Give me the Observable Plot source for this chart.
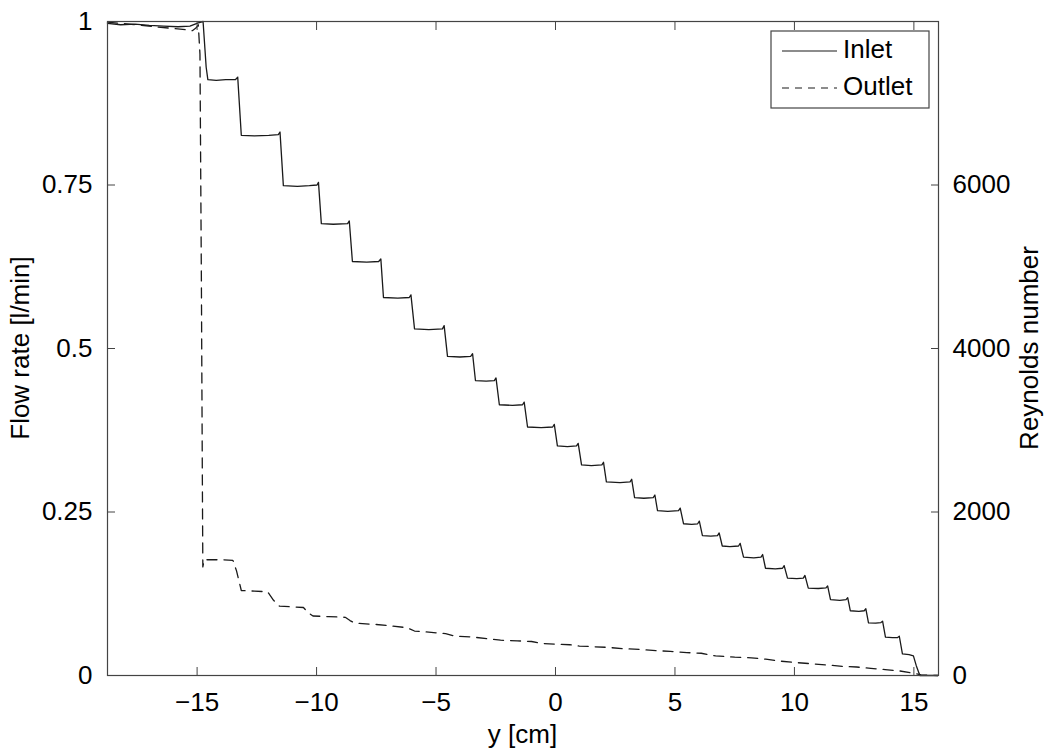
<!DOCTYPE html>
<html><head><meta charset="utf-8">
<script src="https://cdn.jsdelivr.net/npm/d3@7"></script>
<script src="https://cdn.jsdelivr.net/npm/@observablehq/plot@0.6"></script>
<style>
body{margin:0;background:#fff}
svg{font-family:"Liberation Sans",Arial,Helvetica,sans-serif}
</style>
</head><body><div id="chart"></div>
<script>
// ---- data ----
const seriesNames = ["Inlet", "Outlet"];
const xTicks = [-15, -10, -5, 0, 5, 10, 15];
const yTicks = [0, 0.25, 0.5, 0.75, 1];
const yTickLabels = ["0", "0.25", "0.5", "0.75", "1"];
const reTicks = [0, 2000, 4000, 6000];
const reMax = 8000;
const xLabel = "y [cm]";
const yLabel = "Flow rate [l/min]";
const y2Label = "Reynolds number";

const inletX = [
  -18.75, -18.2, -17.6, -17.0, -16.4, -15.8, -15.3, -14.95, -14.75,
  -14.62, -14.55, -14.2, -13.8, -13.4, -13.3,
  -13.15, -12.6, -12.0, -11.6, -11.53,
  -11.39, -10.8, -10.3, -9.98, -9.92,
  -9.80, -9.3, -8.7, -8.63,
  -8.50, -7.9, -7.4, -7.31,
  -7.20, -6.6, -6.12, -6.05,
  -5.90, -5.3, -4.73, -4.66,
  -4.52, -4.0, -3.55, -3.47,
  -3.35, -2.9, -2.56, -2.49,
  -2.35, -1.8, -1.38, -1.31,
  -1.17, -0.6, -0.12, -0.05,
  0.08, 0.5, 0.88, 0.95,
  1.09, 1.5, 1.94, 2.01,
  2.13, 2.7, 3.12, 3.19,
  3.31, 3.7, 4.09, 4.16,
  4.27, 4.7, 5.15, 5.22,
  5.36, 5.7, 5.95, 6.02,
  6.15, 6.5, 6.78, 6.85,
  6.98, 7.3, 7.66, 7.73,
  7.87, 8.3, 8.60, 8.67,
  8.79, 9.2, 9.50, 9.57,
  9.71, 10.1, 10.37, 10.44,
  10.58, 11.0, 11.32, 11.39,
  11.51, 11.9, 12.16, 12.23,
  12.34, 12.7, 12.92, 12.99,
  13.10, 13.4, 13.62, 13.69,
  13.81, 14.1, 14.32, 14.39,
  14.52, 14.8, 14.98,
  15.1, 15.25, 16.0
];
const inletY = [
  0.997, 0.995, 0.996, 0.994, 0.993, 0.992, 0.993, 0.998, 1.0,
  0.93, 0.911, 0.910, 0.911, 0.911, 0.915,
  0.826, 0.825, 0.826, 0.827, 0.831,
  0.749, 0.748, 0.749, 0.750, 0.754,
  0.691, 0.690, 0.691, 0.695,
  0.633, 0.632, 0.633, 0.637,
  0.578, 0.577, 0.578, 0.582,
  0.530, 0.529, 0.530, 0.535,
  0.488, 0.487, 0.488, 0.492,
  0.451, 0.450, 0.451, 0.455,
  0.414, 0.413, 0.414, 0.418,
  0.380, 0.379, 0.380, 0.384,
  0.351, 0.350, 0.351, 0.355,
  0.322, 0.321, 0.322, 0.326,
  0.296, 0.295, 0.296, 0.300,
  0.272, 0.271, 0.272, 0.276,
  0.252, 0.251, 0.252, 0.256,
  0.232, 0.231, 0.232, 0.236,
  0.214, 0.213, 0.214, 0.218,
  0.198, 0.197, 0.198, 0.202,
  0.181, 0.180, 0.181, 0.185,
  0.164, 0.163, 0.164, 0.168,
  0.149, 0.148, 0.149, 0.153,
  0.1335, 0.133, 0.134, 0.137,
  0.116, 0.115, 0.116, 0.119,
  0.099, 0.098, 0.099, 0.102,
  0.0805, 0.080, 0.081, 0.083,
  0.0586, 0.058, 0.058, 0.060,
  0.033, 0.032, 0.030,
  0.015, 0.0, 0.0
];

const outletX = [
  -18.75, -18.2, -17.5, -16.8, -16.2, -15.6, -15.2, -15.05, -14.95,
  -14.88, -14.82, -14.78, -14.76, -14.7, -14.3, -13.9, -13.5,
  -13.35, -13.15, -12.6, -12.05, -11.8, -11.55, -11.0, -10.55,
  -10.35, -10.15, -9.5, -8.8, -8.6, -8.4, -7.5, -6.9, -6.2,
  -5.9, -5.2, -4.6, -4.2, -3.5, -2.8, -2.3, -1.6, -1.0, -0.6,
  0.0, 0.6, 1.0, 1.6, 2.2, 2.8, 3.5, 4.2, 4.8, 5.5, 6.1, 6.7,
  7.5, 8.2, 8.8, 9.4, 10.0, 10.7, 11.4, 12.0, 12.6, 13.2, 13.8,
  14.4, 14.9, 15.3, 16.0
];
const outletY = [
  0.999, 0.997, 0.995, 0.992, 0.990, 0.988, 0.986, 0.990, 0.995,
  0.95, 0.6, 0.3, 0.166, 0.177, 0.177, 0.177, 0.176,
  0.160, 0.130, 0.129, 0.128, 0.115, 0.106, 0.105, 0.104,
  0.096, 0.091, 0.090, 0.089, 0.084, 0.080, 0.078, 0.076, 0.073,
  0.068, 0.066, 0.064, 0.060, 0.059, 0.056, 0.054, 0.053, 0.052, 0.049,
  0.048, 0.047, 0.045, 0.044, 0.043, 0.041, 0.040, 0.038, 0.037, 0.035, 0.034, 0.030,
  0.028, 0.027, 0.025, 0.022, 0.020, 0.018, 0.016, 0.014, 0.013, 0.011, 0.009,
  0.007, 0.004, 0.001, 0.0
];

// ---- tables for the library ----
const inlet = inletX.map((x, i) => ({x, y: inletY[i]}));
const outlet = outletX.map((x, i) => ({x, y: outletY[i]}));

const W = 1050, H = 756;
const mL = 107, mR = 112, mT = 21, mB = 81;
const axisColor = "#444";
const lineColor = "#1a1a1a";
const fontFam = '"Liberation Sans", Arial, Helvetica, sans-serif';
const fs = 26;

const plot = Plot.plot({
  width: W, height: H,
  marginLeft: mL, marginRight: mR, marginTop: mT, marginBottom: mB,
  x: {domain: [-18.75, 16.03]},
  y: {domain: [0, 1]},
  style: {fontFamily: fontFam, fontSize: fs + "px", color: "#000", background: "#fff", overflow: "visible"},
  marks: [
    Plot.line(inlet, {x: "x", y: "y", stroke: lineColor, strokeWidth: 1.3}),
    Plot.line(outlet, {x: "x", y: "y", stroke: lineColor, strokeWidth: 1.3, strokeDasharray: "10,7"}),
    Plot.axisX({anchor: "bottom", ticks: xTicks, tickSize: -8, tickPadding: 25, label: null, stroke: axisColor}),
    Plot.axisX({anchor: "top", ticks: xTicks, tickSize: -8, tickFormat: () => "", label: null, stroke: axisColor}),
    Plot.axisY({anchor: "left", ticks: yTicks, tickSize: -8, tickPadding: 23, tickFormat: d => yTickLabels[yTicks.indexOf(d)], label: null, stroke: axisColor}),
    Plot.axisY({anchor: "right", ticks: reTicks.map(r => r / reMax), tickSize: -8, tickPadding: 22, tickFormat: d => String(Math.round(d * reMax)), label: null, stroke: axisColor}),
    Plot.frame({stroke: axisColor, strokeWidth: 1.2})
  ]
});
document.getElementById("chart").appendChild(plot);

// ---- axis titles & legend ----
const svg = d3.select(plot);
const cx = (mL + (W - mR)) / 2, cy = (mT + (H - mB)) / 2;
svg.append("text").attr("x", cx).attr("y", 736).attr("text-anchor", "middle")
  .attr("dominant-baseline", "middle").attr("font-size", fs).attr("fill", "#000").text(xLabel);
svg.append("text").attr("transform", `translate(22,${cy}) rotate(-90)`).attr("text-anchor", "middle")
  .attr("dominant-baseline", "middle").attr("font-size", fs).attr("fill", "#000").text(yLabel);
svg.append("text").attr("transform", `translate(1031,${cy}) rotate(-90)`).attr("text-anchor", "middle")
  .attr("dominant-baseline", "middle").attr("font-size", fs).attr("fill", "#000").text(y2Label);

const lg = svg.append("g");
lg.append("rect").attr("x", 771).attr("y", 31).attr("width", 158).attr("height", 77)
  .attr("fill", "#fff").attr("stroke", axisColor).attr("stroke-width", 1.2);
const dashes = [null, "7,6"];
seriesNames.forEach((name, i) => {
  const yy = 51 + i * 37;
  lg.append("line").attr("x1", 782).attr("x2", 837).attr("y1", yy).attr("y2", yy)
    .attr("stroke", lineColor).attr("stroke-width", 1.2).attr("stroke-dasharray", dashes[i]);
  lg.append("text").attr("x", 843).attr("y", yy).attr("text-anchor", "start").attr("dominant-baseline", "middle")
    .attr("font-size", fs).attr("fill", "#000").text(name);
});
</script>
</body></html>
